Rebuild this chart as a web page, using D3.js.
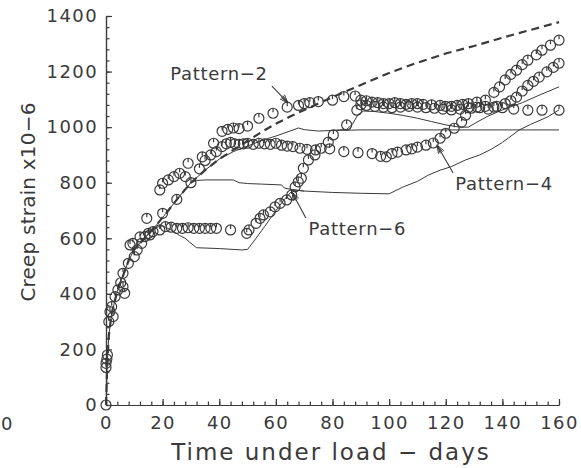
<!DOCTYPE html>
<html><head><meta charset="utf-8">
<script src="https://cdn.jsdelivr.net/npm/d3@7"></script>
<style>
body{margin:0;background:#fff}
text{font-family:"DejaVu Sans",sans-serif;fill:#3a3a3a}
</style>
</head><body><svg id="c" width="581" height="468"></svg>
<script>
// ---------- data (days, creep strain x10^-6) ----------
const xTicks = [0,20,40,60,80,100,120,140,160];
const yTicks = [0,200,400,600,800,1000,1200,1400];

// common early part of every predicted curve
const commonCurve = [[0,0],[0.5,160],[1,250],[2,330],[4,410],[6,465],[8,520],[10,560],[14,605],[18,650],[22,700],[26,752],[30,800]];
// dashed upper prediction
const dashedTail = [[35,845],[40,885],[45,918],[50,950],[55,983],[60,1012],[65,1038],[70,1062],[80,1108],[90,1152],[100,1195],[110,1232],[120,1265],[130,1292],[140,1322],[150,1350],[160,1378]];
// thin prediction lines (branches after the common part)
const predA = [[35,845],[40,885],[45,912],[50,932],[55,952],[60,968],[65,986],[68,997],[70,991],[75,986],[80,988],[90,990],[100,990],[110,990],[120,990],[130,990],[140,990],[150,990],[160,990]];
const predD = [[80,988],[85,992],[87,1010],[89,1045],[91,1058],[95,1056],[100,1050],[105,1042],[110,1032],[115,1020],[120,1008],[125,1000],[128,1000],[131,1018],[135,1040],[140,1062],[147,1088],[153,1115],[160,1145]];
const predB = [[30,800],[32,808],[35,810],[45,810],[47,800],[50,797],[55,795],[62,792],[63,781],[66,775],[70,770],[80,765],[90,762],[100,760],[105,785],[110,805],[114,828],[118,845],[122,858],[127,882],[132,900],[136,920],[140,945],[146,990],[150,1010],[156,1037],[160,1062]];
const predC = [[14,605],[18,640],[20,645],[23,630],[26,610],[28,600],[30,582],[32,566],[40,563],[48,558],[50,560],[53,600],[56,642],[60,700],[63,740],[66,774],[70,770]];

// measured points
const commonPts = [[0,0],[0,135],[0,150],[0.3,165],[0.5,180],[1,300],[1.4,336],[2,354],[2.5,318],[3.2,390],[4.2,414],[5.2,440],[6,426],[6.6,402],[6,474],[7.9,510],[8.5,576],[9.5,582],[10,534],[11,558],[12,605],[12.6,582],[13.8,606],[14.4,672],[15,618],[15.5,612],[16.6,624]];
const pattern2Pts = [[19,774],[20,798],[22,810],[24,822],[26,834],[28,822],[29,870],[34,893],[38,942],[41,985],[43,992],[45,997],[47,995],[50,1004],[54,1032],[59,1050],[64,1072],[68,1078],[70,1085],[72,1088],[75,1092],[80,1097],[84,1110],[88,1112],[90,1097],[92,1095],[94,1090],[96,1088],[98,1085],[100,1085],[102,1088],[104,1085],[106,1082],[108,1085],[110,1085],[112,1082],[115,1080],[118,1078],[120,1075],[122,1075],[124,1078],[126,1082],[128,1085],[131,1090],[134,1097],[137,1125],[139,1145],[141,1170],[143,1190],[145,1205],[147,1225],[149,1241],[152,1260],[154,1277],[157,1295],[160,1313]];
const pattern4Pts = [[20,690],[25,740],[30,800],[33,850],[35,880],[37,900],[39,912],[41,930],[42.5,940],[44,945],[45.5,940],[47,938],[48.5,940],[50,942],[52,938],[54,942],[56,940],[58,938],[60,942],[62,935],[64,932],[66,930],[68.5,924],[71,920],[74,918],[79,922],[84,912],[89,908],[94,905],[97,895],[99,893],[101,905],[103,910],[106,918],[108,922],[110,928],[113,935],[115.6,943],[118,960],[120,978],[123,996],[125.6,1018],[127,1043],[129,1068],[132,1070],[135,1065],[138,1075],[141,1085],[143,1095],[145,1108],[147,1130],[149,1150],[151,1165],[153,1180],[155.7,1199],[158,1215],[160,1230]];
const pattern6Pts = [[19,630],[21,642],[23,640],[25,636],[27,636],[29,638],[31,636],[33,636],[35,636],[37,636],[39,636],[44,630],[49.7,618],[50.5,630],[53,654],[54.4,672],[55.6,684],[58,695],[59.7,713],[61.5,726],[63.8,738],[65.6,756],[66.8,785],[67.9,803],[69,816],[69.7,852],[71.5,882],[73.8,900],[76,924],[78.5,946],[80.3,972],[85,1008],[88.6,1061],[90,1080],[92,1078],[95,1075],[98,1072],[101,1070],[104,1072],[107,1075],[110,1072],[113,1070],[116,1068],[119,1065],[122,1062],[125,1065],[128,1070],[131,1072],[134,1075],[137,1072],[140,1070],[144,1065],[149,1061],[154,1061],[160,1061]];

// annotation labels: text, label centre (day, strain), arrow start, arrow tip
const labelNames = ["Pattern−2","Pattern−4","Pattern−6"];
const labelPos = [[39.9,1170],[140.6,774],[88.8,612]];
const arrowFrom = [[58.6,1148],[122.6,835],[70.6,673]];
const arrowTo = [[64.3,1087],[116.9,936],[65.7,766]];

// ---------- drawing ----------
const svg = d3.select("#c");
svg.append("rect").attr("width",581).attr("height",468).attr("fill","#fff");
const x = d3.scaleLinear().domain([0,160]).range([106,559]);
const y = d3.scaleLinear().domain([0,1400]).range([405,16]);
const ink = "#3a3a3a";
const fmt = d3.format("d");

// axes
const xMinor = d3.axisBottom(x).tickValues(d3.range(0,161,4)).tickSize(-3.5).tickSizeOuter(0).tickFormat("");
const xMajor = d3.axisBottom(x).tickValues(xTicks).tickSize(-6).tickSizeOuter(0).tickPadding(11).tickFormat(fmt);
const yMinor = d3.axisLeft(y).tickValues(d3.range(0,1401,40)).tickSize(-3.5).tickSizeOuter(0).tickFormat("");
const yMajor = d3.axisLeft(y).tickValues(yTicks).tickSize(-6).tickSizeOuter(0).tickPadding(8).tickFormat(fmt);
[ [xMinor,"x"],[xMajor,"x"],[yMinor,"y"],[yMajor,"y"] ].forEach(([ax,k])=>{
  const g = svg.append("g").attr("transform", k==="x" ? `translate(0,${y(0)})` : `translate(${x(0)},0)`).call(ax);
  g.selectAll("path,line").attr("stroke",ink).attr("stroke-width",1.2);
  g.selectAll("text").attr("fill",ink).style("font-size","18px").style("letter-spacing","1.4px")
    .style("font-family",'"DejaVu Sans",sans-serif');
});

// axis titles
svg.append("text").attr("x",331).attr("y",460).attr("text-anchor","middle")
  .style("font-size","23px").style("letter-spacing","2px").text("Time under load − days");
svg.append("text").attr("transform","translate(35,202) rotate(-90)").attr("text-anchor","middle")
  .style("font-size","20px").style("letter-spacing","0.2px").text("Creep strain x10−6");
// stray label at the far left edge
svg.append("text").attr("x",1).attr("y",430).attr("text-anchor","start").style("font-size","18px").text("0");

// lines
const line = d3.line().x(d=>x(d[0])).y(d=>y(d[1])).curve(d3.curveLinear);
const dashed = commonCurve.concat(dashedTail);
svg.append("path").attr("d",line(dashed)).attr("fill","none").attr("stroke",ink)
  .attr("stroke-width",2.2).attr("stroke-dasharray","8,5");
const thin = [commonCurve.concat(predA), predD, predB, predC];
thin.forEach(s=>svg.append("path").attr("d",line(s)).attr("fill","none").attr("stroke",ink).attr("stroke-width",1));

// markers
const allPts = commonPts.concat(pattern2Pts, pattern4Pts, pattern6Pts);
const mk = svg.append("g").selectAll("g").data(allPts).join("g")
  .attr("transform",d=>`translate(${x(d[0])},${y(d[1])})`);
mk.append("circle").attr("r",5).attr("fill","none").attr("stroke",ink).attr("stroke-width",1.2);
mk.append("line").attr("x1",0).attr("y1",-5).attr("x2",0).attr("y2",-1).attr("stroke",ink).attr("stroke-width",1.2);

// annotations
labelNames.forEach((t,i)=>{
  svg.append("text").attr("x",x(labelPos[i][0])).attr("y",y(labelPos[i][1])).attr("text-anchor","middle")
    .style("font-size","18px").style("letter-spacing","0.7px").text(t);
  const x1=x(arrowFrom[i][0]), y1=y(arrowFrom[i][1]), x2=x(arrowTo[i][0]), y2=y(arrowTo[i][1]);
  svg.append("line").attr("x1",x1).attr("y1",y1).attr("x2",x2).attr("y2",y2).attr("stroke",ink).attr("stroke-width",1.1);
  const a = Math.atan2(y2-y1,x2-x1);
  [-0.35,0.35,-0.15,0.15].forEach(da=>{
    svg.append("line").attr("x1",x2).attr("y1",y2)
      .attr("x2",x2-9*Math.cos(a+da)).attr("y2",y2-9*Math.sin(a+da))
      .attr("stroke",ink).attr("stroke-width",1);
  });
});
</script></body></html>
